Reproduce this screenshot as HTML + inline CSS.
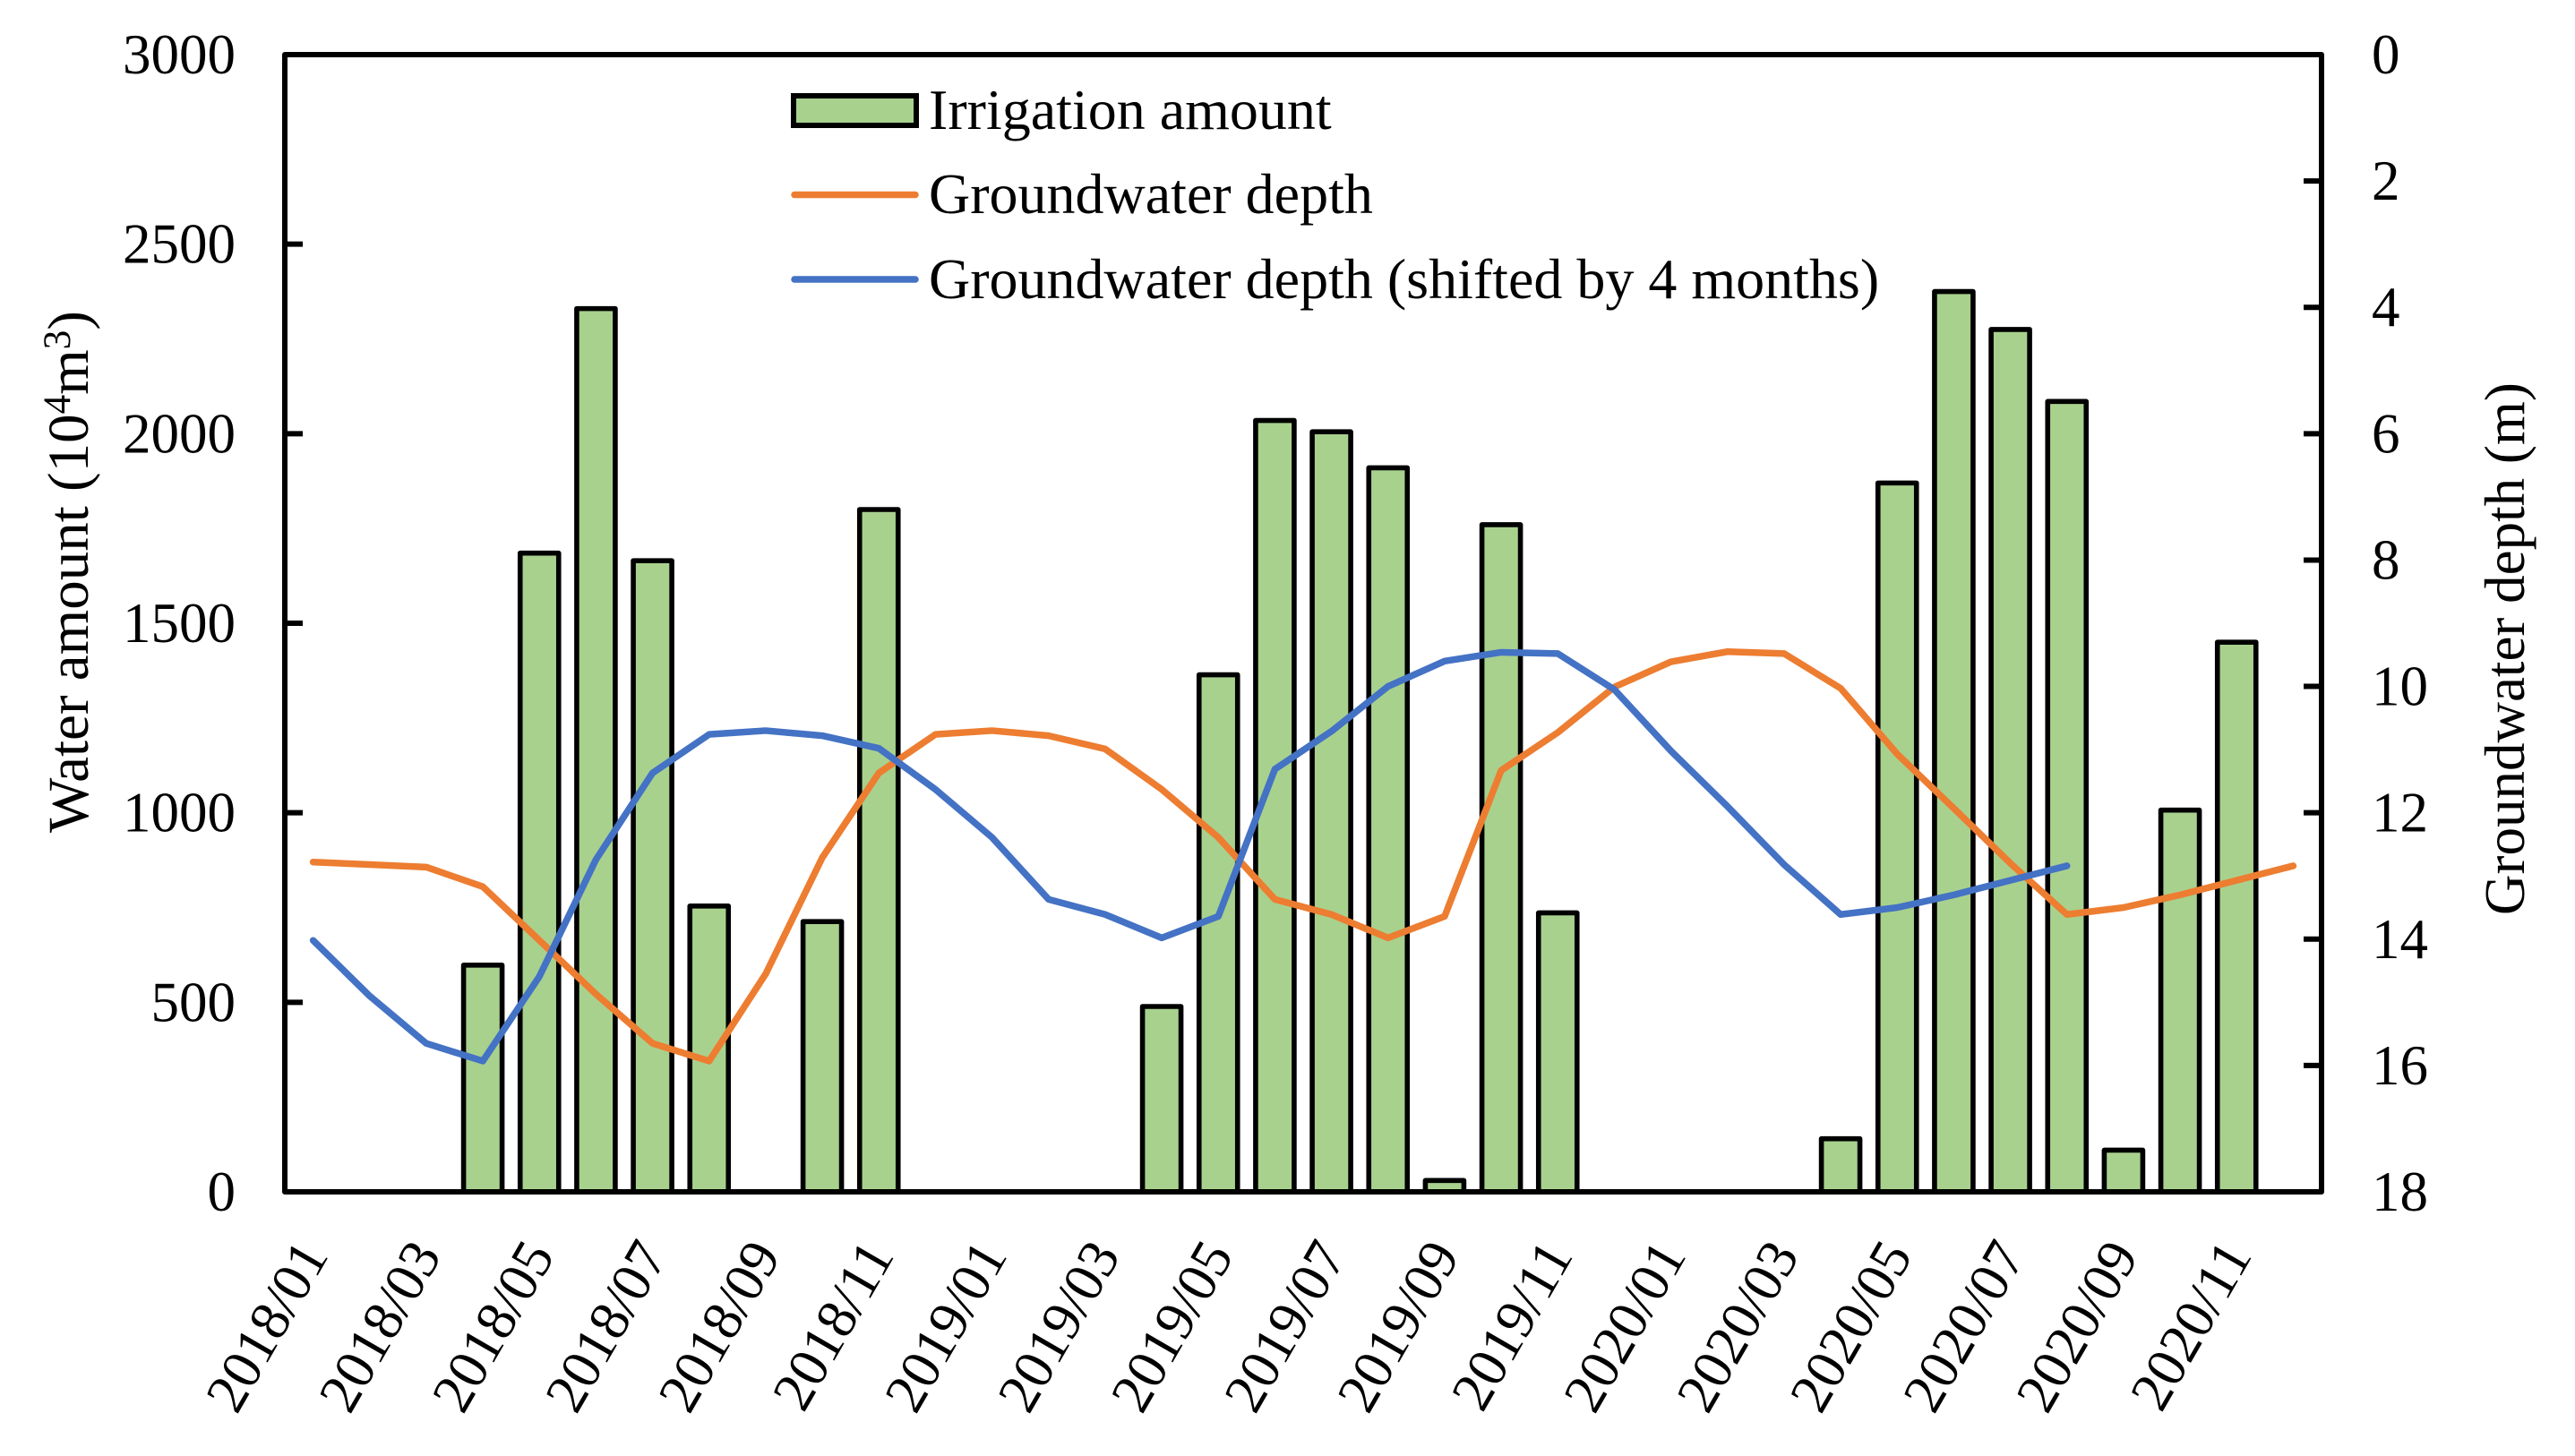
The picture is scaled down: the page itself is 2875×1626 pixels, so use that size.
<!DOCTYPE html>
<html lang="en">
<head>
<meta charset="utf-8">
<title>Irrigation amount and groundwater depth</title>
<style>
html,body{margin:0;padding:0;background:#fff;width:2875px;height:1626px;overflow:hidden}
svg{display:block}
text{font-family:"Liberation Serif",serif;fill:#000}
</style>
</head>
<body>
<svg id="chart" xmlns="http://www.w3.org/2000/svg" width="2875" height="1626" viewBox="0 0 2875 1626">
  <rect x="0" y="0" width="2875" height="1626" fill="#ffffff"/>
  <g id="bars"></g>
  <g id="lines"></g>
  <g id="axes"></g>
  <text transform="translate(98 930) rotate(-90)" font-size="65">Water amount (10<tspan font-size="43" dy="-20">4</tspan><tspan dy="20">m</tspan><tspan font-size="43" dy="-20">3</tspan><tspan dy="20">)</tspan></text>
  <text transform="translate(2818 1022) rotate(-90)" font-size="63">Groundwater depth (m)</text>
  <g>
    <rect x="886" y="107" width="137" height="33" fill="#A9D18E" stroke="#000" stroke-width="6"/>
    <text x="1037" y="144" font-size="64">Irrigation amount</text>
    <line x1="887" y1="217.5" x2="1022" y2="217.5" stroke="#ED7D31" stroke-width="7.5" stroke-linecap="round"/>
    <text x="1037" y="238" font-size="64">Groundwater depth</text>
    <line x1="887" y1="312" x2="1022" y2="312" stroke="#4472C4" stroke-width="7.5" stroke-linecap="round"/>
    <text x="1037" y="333" font-size="64">Groundwater depth (shifted by 4 months)</text>
  </g>
</svg>
<script>
const months = ['2018/01','2018/02','2018/03','2018/04','2018/05','2018/06','2018/07','2018/08','2018/09','2018/10','2018/11','2018/12',
  '2019/01','2019/02','2019/03','2019/04','2019/05','2019/06','2019/07','2019/08','2019/09','2019/10','2019/11','2019/12',
  '2020/01','2020/02','2020/03','2020/04','2020/05','2020/06','2020/07','2020/08','2020/09','2020/10','2020/11','2020/12'];
const irrigationAmount = [0,0,0,598,1685,2330,1665,754,0,713,1800,0,
  0,0,0,489,1364,2035,2005,1910,30,1760,736,0,
  0,0,0,140,1870,2375,2275,2085,110,1007,1450,0];
const groundwaterDepth = [12.78,12.82,12.86,13.17,14.02,14.87,15.65,15.93,14.55,12.71,11.37,10.76,
  10.7,10.78,10.99,11.63,12.39,13.37,13.61,13.98,13.64,11.33,10.73,10.01,
  9.61,9.45,9.48,10.03,11.07,11.93,12.8,13.61,13.5,13.3,13.07,12.84];
const groundwaterDepthShifted = [14.02,14.9,15.65,15.93,14.59,12.74,11.37,10.76,10.7,10.78,10.98,11.63,
  12.39,13.37,13.61,13.98,13.64,11.31,10.71,10.0,9.6,9.46,9.48,10.05,
  11.02,11.9,12.82,13.61,13.5,13.3,13.07,12.84];
const leftTicks = [0,500,1000,1500,2000,2500,3000];
const rightTicks = [0,2,4,6,8,10,12,14,16,18];
const xTickLabels = ['2018/01','2018/03','2018/05','2018/07','2018/09','2018/11','2019/01','2019/03','2019/05','2019/07','2019/09','2019/11','2020/01','2020/03','2020/05','2020/07','2020/09','2020/11'];

const NS = 'http://www.w3.org/2000/svg';
const plot = {left: 318, right: 2592, top: 61, bottom: 1331};
const leftMax = 3000, rightMax = 18;
const band = (plot.right - plot.left) / months.length;
const xOf = i => plot.left + band * (i + 0.5);
const yLeft = v => plot.bottom - (v / leftMax) * (plot.bottom - plot.top);
const yRight = d => plot.top + (d / rightMax) * (plot.bottom - plot.top);
const make = (tag, parent) => { const el = document.createElementNS(NS, tag); parent.appendChild(el); return el; };

const barsG = document.getElementById('bars');
irrigationAmount.forEach((v, i) => {
  const r = make('rect', barsG);
  
  
  r.setAttribute('x', xOf(i) - 21.5);
  r.setAttribute('y', yLeft(v));
  r.setAttribute('width', 43);
  r.setAttribute('height', plot.bottom - yLeft(v));
  r.setAttribute('fill', '#A9D18E');
  r.setAttribute('stroke', '#000');
  r.setAttribute('stroke-width', 5.6);
  r.setAttribute('stroke-linejoin', 'round');
});

const linesG = document.getElementById('lines');
const orange = make('polyline', linesG);


orange.setAttribute('points', groundwaterDepth.map((d, i) => xOf(i) + ',' + yRight(d)).join(' '));
orange.setAttribute('fill', 'none');
orange.setAttribute('stroke', '#ED7D31');
orange.setAttribute('stroke-width', 7.5);
orange.setAttribute('stroke-linecap', 'round');
orange.setAttribute('stroke-linejoin', 'round');
const blue = make('polyline', linesG);


blue.setAttribute('points', groundwaterDepthShifted.map((d, i) => xOf(i) + ',' + yRight(d)).join(' '));
blue.setAttribute('fill', 'none');
blue.setAttribute('stroke', '#4472C4');
blue.setAttribute('stroke-width', 7.5);
blue.setAttribute('stroke-linecap', 'round');
blue.setAttribute('stroke-linejoin', 'round');

const axesG = document.getElementById('axes');
const frame = make('rect', axesG);


frame.setAttribute('x', plot.left);
frame.setAttribute('y', plot.top);
frame.setAttribute('width', plot.right - plot.left);
frame.setAttribute('height', plot.bottom - plot.top);
frame.setAttribute('fill', 'none');
frame.setAttribute('stroke', '#000');
frame.setAttribute('stroke-width', 6);
frame.setAttribute('stroke-linejoin', 'round');

leftTicks.forEach(v => {
  const y = yLeft(v);
  const t = make('line', axesG);
  
  
  t.setAttribute('x1', plot.left);
  t.setAttribute('x2', plot.left + 20);
  t.setAttribute('y1', y);
  t.setAttribute('y2', y);
  t.setAttribute('stroke', '#000');
  t.setAttribute('stroke-width', 6);
  const l = make('text', axesG);
  
  
  l.setAttribute('x', 263);
  l.setAttribute('y', y + 21);
  l.setAttribute('font-size', 63);
  l.setAttribute('text-anchor', 'end');
  l.textContent = String(v);
});

rightTicks.forEach(d => {
  const y = yRight(d);
  const t = make('line', axesG);
  
  
  t.setAttribute('x1', plot.right - 20);
  t.setAttribute('x2', plot.right);
  t.setAttribute('y1', y);
  t.setAttribute('y2', y);
  t.setAttribute('stroke', '#000');
  t.setAttribute('stroke-width', 6);
  const l = make('text', axesG);
  
  
  l.setAttribute('x', 2648);
  l.setAttribute('y', y + 21);
  l.setAttribute('font-size', 63);
  l.textContent = String(d);
});

xTickLabels.forEach(label => {
  const i = months.indexOf(label);
  const l = make('text', axesG);
  
  
  l.setAttribute('transform', 'translate(' + (xOf(i) + 18) + ' 1402) rotate(-60)');
  l.setAttribute('font-size', 63);
  l.setAttribute('text-anchor', 'end');
  l.textContent = label;
});
</script>
</body>
</html>
